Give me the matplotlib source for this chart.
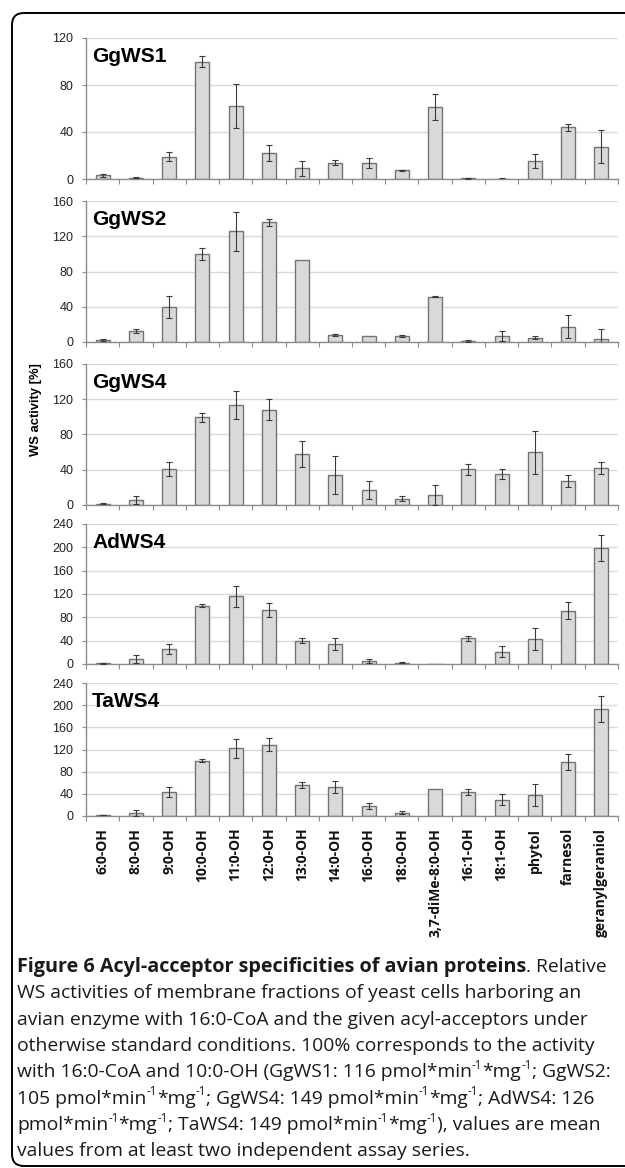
"""
Attivita' WS relative (Figure 6): specificita' per l'accettore acilico di
cinque enzimi aviari, un pannello per enzima, con didascalia sotto.
"""
import re
import numpy as np
import matplotlib.pyplot as plt
from matplotlib.patches import FancyBboxPatch

# ---------------------------------------------------------------- dati
accettori = ["6:0-OH", "8:0-OH", "9:0-OH", "10:0-OH", "11:0-OH", "12:0-OH",
             "13:0-OH", "14:0-OH", "16:0-OH", "18:0-OH", "3,7-diMe-8:0-OH",
             "16:1-OH", "18:1-OH", "phytol", "farnesol", "geranylgeraniol"]

enzimi = ["GgWS1", "GgWS2", "GgWS4", "AdWS4", "TaWS4"]
y_max = [120, 160, 160, 240, 240]

ggws1_val = [3, 1, 19, 100, 62, 22, 9, 14, 13.5, 7.5, 61.5, 0.5, 0.3, 15, 44, 27.5]
ggws1_err = [1.5, 0.5, 4, 5, 19, 7, 6.5, 2, 4.5, 0.5, 11, 0.3, 0.8, 6, 3, 14]

ggws2_val = [2, 12.5, 40, 100, 125.5, 136, 93, 8, 6.5, 7, 51.5, 1.5, 7, 5, 17.5, 3]
ggws2_err = [1, 2.5, 12.5, 7, 22, 4, np.nan, 1.5, np.nan, 1, 0.5, 1, 5.5, 2, 13.5, 11.5]

ggws4_val = [1.5, 5.5, 40.5, 99.5, 113.5, 108, 58, 34, 17, 7, 11, 40.5, 35, 60, 27, 42]
ggws4_err = [0.5, 4.5, 8, 5, 16, 12, 15, 22, 10, 3, 11.5, 6, 5.5, 24.5, 6.5, 6.5]

adws4_val = [1, 8, 25, 100, 116, 92, 40, 34, 4.5, 2.5, 0, 44, 21, 43, 91, 199]
adws4_err = [0.5, 7, 8.5, 2.5, 18, 12, 4.5, 10, 3.5, 1.5, np.nan, 4.5, 9.5, 19.5, 14.5, 23]

taws4_val = [1.5, 6, 43, 100, 122, 129, 55.5, 52.5, 18, 6, 49.5, 43.5, 29, 37.5, 97.5, 193.5]
taws4_err = [0.5, 5.5, 9, 2.5, 17, 11, 5, 10.5, 5, 3, np.nan, 5, 10, 20, 14, 23]

valori = [ggws1_val, ggws2_val, ggws4_val, adws4_val, taws4_val]
errori = [ggws1_err, ggws2_err, ggws4_err, adws4_err, taws4_err]

# ^{...} = apice
didascalia_titolo = "Figure 6 Acyl-acceptor specificities of avian proteins"
didascalia_righe = [
    ". Relative",
    "WS activities of membrane fractions of yeast cells harboring an",
    "avian enzyme with 16:0-CoA and the given acyl-acceptors under",
    "otherwise standard conditions. 100% corresponds to the activity",
    "with 16:0-CoA and 10:0-OH (GgWS1: 116 pmol*min^{-1}*mg^{-1}; GgWS2:",
    "105 pmol*min^{-1}*mg^{-1}; GgWS4: 149 pmol*min^{-1}*mg^{-1}; AdWS4: 126",
    "pmol*min^{-1}*mg^{-1}; TaWS4: 149 pmol*min^{-1}*mg^{-1}), values are mean",
    "values from at least two independent assay series.",
]

# ---------------------------------------------------------------- layout (pixel)
W, H = 625, 1168
SX0, SX1 = 86, 618
PANNELLI_Y = [(38, 179), (201, 342), (364, 505), (524, 664), (683, 816)]

plt.rcParams["font.family"] = "Liberation Sans"
GRIGIO_ASSE = "#8c8c8c"

fig = plt.figure(figsize=(W / 100, H / 100), dpi=100)
renderer = fig.canvas.get_renderer()

# cornice arrotondata (in coordinate pixel)
sfondo = fig.add_axes([0, 0, 1, 1], zorder=-10)
sfondo.set_xlim(0, W)
sfondo.set_ylim(H, 0)
sfondo.axis("off")
sfondo.add_patch(FancyBboxPatch((12, 13), 660, 1153,
                                boxstyle="round,pad=0,rounding_size=12",
                                fill=False, edgecolor="black", linewidth=1.4))

x = np.arange(len(accettori))
for i, (nome, top, val, err) in enumerate(zip(enzimi, y_max, valori, errori)):
    t, b = PANNELLI_Y[i]
    ax = fig.add_axes([SX0 / W, 1 - b / H, (SX1 - SX0) / W, (b - t) / H])
    ax.bar(x, val, width=0.42, color="#d9d9d9", edgecolor="#737373",
           linewidth=1.0, zorder=2)
    ax.errorbar(x, val, yerr=err, fmt="none", ecolor="#3a3a3a",
                elinewidth=0.8, capsize=2.3, capthick=0.8, zorder=3)

    ax.set_xlim(-0.5, len(accettori) - 0.5)
    ax.set_ylim(0, top)
    ax.set_yticks(np.arange(0, top + 1, 40))
    ax.grid(axis="y", color="#d9d9d9", linewidth=1.0, zorder=0)
    ax.set_axisbelow(True)

    for s in ("top", "right"):
        ax.spines[s].set_visible(False)
    for s in ("left", "bottom"):
        ax.spines[s].set_color(GRIGIO_ASSE)
        ax.spines[s].set_linewidth(1.0)

    ax.set_xticks(np.arange(-0.5, len(accettori), 1.0))
    ax.tick_params(axis="x", which="major", direction="out", length=3.5,
                   color=GRIGIO_ASSE, labelbottom=False)
    ax.tick_params(axis="y", direction="out", length=3, color=GRIGIO_ASSE,
                   labelsize=9, labelcolor="#222222", pad=6)

    if i == len(enzimi) - 1:
        ax.set_xticks(x, minor=True)
        ax.set_xticklabels(accettori, minor=True, rotation=90,
                           fontfamily="Open Sans", fontweight="bold",
                           fontsize=10, color="#111111")
        ax.tick_params(axis="x", which="minor", length=0, pad=8.5)

    ax.annotate(nome, xy=(0, 1), xycoords="axes fraction",
                xytext=(6, -9), textcoords="offset pixels",
                ha="left", va="top", fontsize=15, fontweight="bold")

fig.text(36 / W, 1 - 410 / H, "WS activity [%]", rotation=90,
         ha="center", va="center", fontsize=9.4, fontweight="bold")


# ---------------------------------------------------------------- didascalia
def scrivi(x_px, y_px, s, fs, **kw):
    """Scrive s da x_px sulla linea di base y_px; ^{..} diventa apice piccolo."""
    parti = re.split(r"\^\{([^}]*)\}", s)
    xc = x_px
    for j, p in enumerate(parti):
        if not p:
            continue
        apice = j % 2 == 1
        size = fs * 0.6 if apice else fs
        dy = fs * 0.42 * 100 / 72 if apice else 0
        tx = fig.text(xc / W, 1 - (y_px - dy) / H, p, fontsize=size,
                      ha="left", va="baseline", fontfamily="Open Sans",
                      color="#1a1a1a", **kw)
        xc = tx.get_window_extent(renderer).x1
    return xc


CX = 17
base0 = 972
passo = 26.3
fs = 13.9
xc = scrivi(CX, base0, didascalia_titolo, 14.2, fontweight="bold")
scrivi(xc, base0, didascalia_righe[0], fs)
for k, riga in enumerate(didascalia_righe[1:], start=1):
    scrivi(CX, base0 + k * passo, riga, fs)

fig.savefig("out.png", dpi=100)
